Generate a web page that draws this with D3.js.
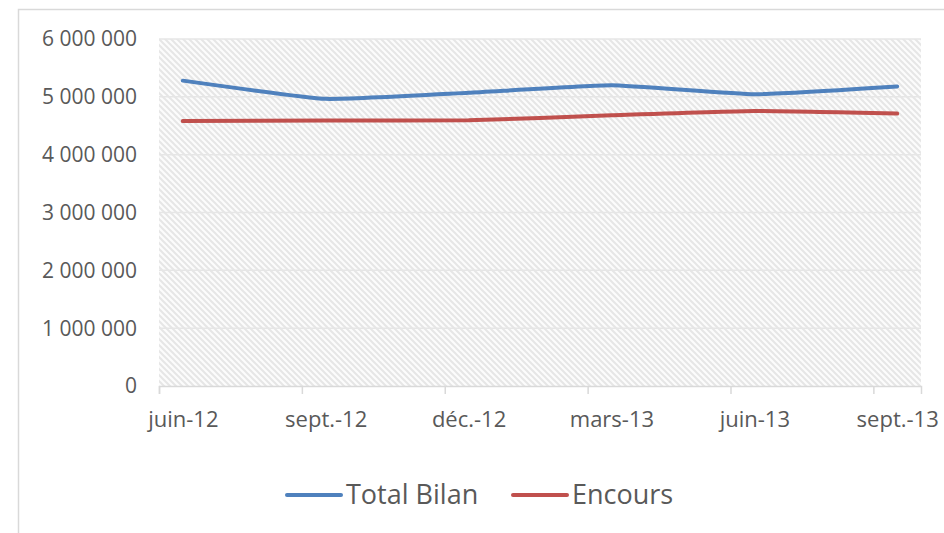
<!DOCTYPE html>
<html>
<head>
<meta charset="utf-8">
<script src="https://cdn.jsdelivr.net/npm/d3@7"></script>
<style>
  body { margin: 0; background: #fff; }
  svg { display: block; }
</style>
</head>
<body>
<script>
// quarterly dates, one every 3 months
var quarterLabels = ["juin-12", "sept.-12", "déc.-12", "mars-13", "juin-13", "sept.-13"];
var totalBilan = [5280000, 4965000, 5070000, 5200000, 5045000, 5180000];
var encours = [4580000, 4590000, 4595000, 4680000, 4755000, 4710000];
var yTicks = [0, 1000000, 2000000, 3000000, 4000000, 5000000, 6000000];

var seriesNames = ["Total Bilan", "Encours"];
var seriesColors = ["#4f81bd", "#c0504d"];

var width = 944, height = 533;
var plotLeft = 159, plotRight = 921, plotTop = 39, plotBottom = 386;

var svg = d3.select("body").append("svg")
    .attr("width", width)
    .attr("height", height);

// outer chart border
svg.append("rect")
    .attr("x", 18.5).attr("y", 9.5)
    .attr("width", 1000).attr("height", 1000)
    .attr("fill", "#fff")
    .attr("stroke", "#d9d9d9")
    .attr("stroke-width", 1.5);

// hatch pattern for plot area
var pat = svg.append("defs").append("pattern")
    .attr("id", "hatch")
    .attr("patternUnits", "userSpaceOnUse")
    .attr("width", 6).attr("height", 6);
pat.append("rect").attr("width", 6).attr("height", 6).attr("fill", "#fcfcfc");
pat.append("path")
    .attr("d", "M0,0 L6,6 M-1,5 L1,7 M5,-1 L7,1")
    .attr("stroke", "#e6e6e6")
    .attr("stroke-width", 2);

// x axis counts months: 16 month slots from juin-12 to sept.-13
var x = d3.scaleLinear().domain([0, 16]).range([plotLeft, plotRight]);
var y = d3.scaleLinear().domain([0, 6000000]).range([plotBottom, plotTop]);

var fr = d3.formatLocale({decimal: ",", thousands: " ", grouping: [3], currency: ["", " €"]});
var fmt = fr.format(",");

svg.append("rect")
    .attr("x", plotLeft).attr("y", plotTop)
    .attr("width", plotRight - plotLeft).attr("height", plotBottom - plotTop)
    .attr("fill", "url(#hatch)");

// gridlines
svg.selectAll("line.grid")
    .data(yTicks.slice(1))
    .enter().append("line")
    .attr("class", "grid")
    .attr("x1", plotLeft).attr("x2", plotRight)
    .attr("y1", function(d){return y(d);})
    .attr("y2", function(d){return y(d);})
    .attr("stroke", "#e6e6e6")
    .attr("stroke-width", 1.5);

// y labels
svg.selectAll("text.ylab")
    .data(yTicks)
    .enter().append("text")
    .attr("class", "ylab")
    .attr("x", 137)
    .attr("y", function(d){return y(d);})
    .attr("dy", "0.35em")
    .attr("text-anchor", "end")
    .attr("font-family", "Open Sans")
    .attr("font-size", 21)
    .attr("fill", "#595959")
    .text(function(d){return fmt(d);});

// x axis
var xAxis = d3.axisBottom(x)
    .tickValues(quarterLabels.map(function(d, i){return i * 3;}))
    .tickSize(8)
    .tickFormat(function(d){return quarterLabels[d / 3];});

var gx = svg.append("g")
    .attr("transform", "translate(0," + plotBottom + ")")
    .call(xAxis);
gx.select(".domain").attr("stroke", "#d9d9d9").attr("stroke-width", 1.5);
gx.selectAll(".tick line").attr("stroke", "#d9d9d9").attr("stroke-width", 1.5);
gx.selectAll(".tick text")
    .attr("x", x(0.5) - x(0))
    .attr("y", 25)
    .attr("font-family", "Open Sans")
    .attr("font-size", 22)
    .attr("fill", "#595959");

// lines
var line = d3.line()
    .x(function(d, i){return x(i * 3 + 0.5);})
    .y(function(d){return y(d);})
    .curve(d3.curveCardinal.tension(0.6));

[totalBilan, encours].forEach(function(s, k){
  svg.append("path")
      .datum(s)
      .attr("d", line)
      .attr("fill", "none")
      .attr("stroke", seriesColors[k])
      .attr("stroke-width", 4)
      .attr("stroke-linecap", "round");
});

// legend
var legendX = [287, 513];
var lg = svg.selectAll("g.legend")
    .data(seriesNames)
    .enter().append("g")
    .attr("class", "legend")
    .attr("transform", function(d, i){return "translate(" + legendX[i] + ",495)";});
lg.append("line")
    .attr("x1", 0).attr("x2", 54)
    .attr("stroke", function(d, i){return seriesColors[i];})
    .attr("stroke-width", 4)
    .attr("stroke-linecap", "round");
lg.append("text")
    .attr("x", 59)
    .attr("y", 9)
    .attr("font-family", "Open Sans")
    .attr("font-size", 27)
    .attr("fill", "#595959")
    .text(function(d){return d;});
</script>
</body>
</html>
